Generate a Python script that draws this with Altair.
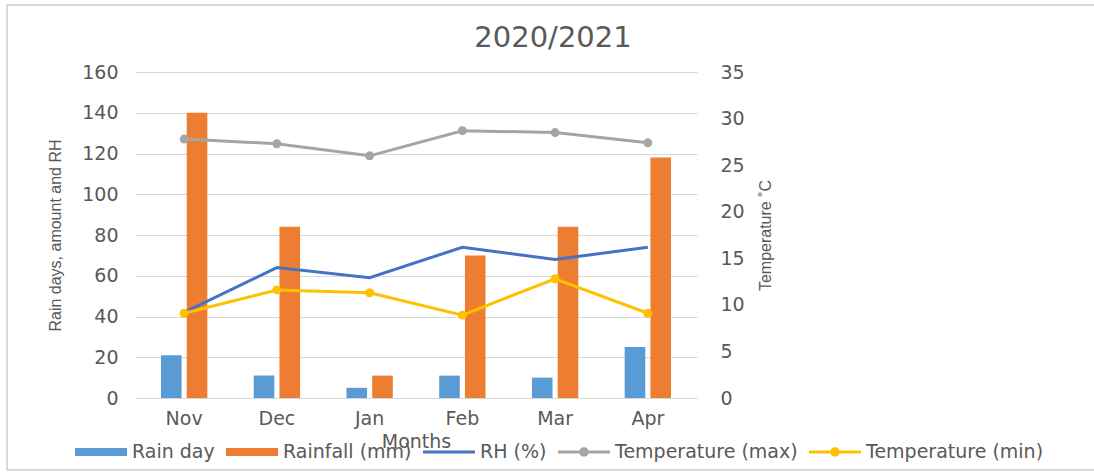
import altair as alt
import pandas as pd

# Monthly climate record, 2020/2021 season
months = ["Nov", "Dec", "Jan", "Feb", "Mar", "Apr"]
rain_days = [21, 11, 5, 11, 10, 25]
rainfall = [140, 84, 11, 70, 84, 118]
rh = [42, 64, 59, 74, 68, 74]
temp_max = [27.8, 27.3, 26.0, 28.7, 28.5, 27.4]
temp_min = [9.1, 11.6, 11.3, 8.9, 12.8, 9.1]

series_names = ["Rain day", "Rainfall (mm)", "RH (%)", "Temperature (max)", "Temperature (min)"]
series_colors = ["#5b9bd5", "#ed7d31", "#4472c4", "#a5a5a5", "#ffc000"]

rows = []
for name, vals in zip(series_names, [rain_days, rainfall, rh, temp_max, temp_min]):
    for m, v in zip(months, vals):
        rows.append({"month": m, "series": name, "value": v})
df = pd.DataFrame(rows)

TEXT = "#595959"
GRID = "#d9d9d9"
LABEL_FONT = "DejaVu Sans"
TITLE_FONT = "Liberation Sans"

# Legend keys: wide swatch for bars, stroke for RH, stroke with dot for temperatures
bar_path = "M-1,-0.15H1V0.15H-1Z"
line_path = "M-1,-0.055H1V0.055H-1Z"
marker_path = ("M-1,-0.055H-0.17V0.055H-1Z "
               "M0.17,-0.055H1V0.055H0.17Z "
               "M-0.18,0A0.18,0.18 0 1,1 0.18,0A0.18,0.18 0 1,1 -0.18,0Z")
legend_shapes = [bar_path, bar_path, line_path, marker_path, marker_path]

legend = alt.Legend(
    title=None,
    orient="none",
    legendX=-60,
    legendY=354,
    direction="horizontal",
    symbolSize=2700,
    symbolOpacity=1,
    symbolStrokeWidth=0,
    labelFont=LABEL_FONT,
    labelFontSize=19,
    labelColor=TEXT,
    labelOffset=5,
    columnPadding=11,
    labelLimit=300,
)

color_scale = alt.Scale(domain=series_names, range=series_colors)
color_enc = alt.Color("series:N", scale=color_scale, legend=legend)

x_enc = alt.X(
    "month:N",
    sort=months,
    scale=alt.Scale(paddingInner=0.5, paddingOuter=0.28),
    axis=alt.Axis(
        title="Months",
        titleFont=LABEL_FONT,
        titleFontSize=19,
        labelAngle=0,
        ticks=False,
        domain=False,
        labelPadding=11,
        titlePadding=4,
    ),
)

y_left = alt.Y(
    "value:Q",
    scale=alt.Scale(domain=[0, 160]),
    axis=alt.Axis(
        title="Rain days, amount and RH",
        values=list(range(0, 161, 20)),
        orient="left",
        grid=True,
        gridColor=GRID,
        ticks=False,
        domain=False,
        labelPadding=17,
        titlePadding=18,
    ),
)

y_right = alt.Y(
    "value:Q",
    scale=alt.Scale(domain=[0, 35]),
    axis=alt.Axis(
        title="Temperature ˚C",
        values=list(range(0, 36, 5)),
        orient="right",
        grid=False,
        ticks=False,
        domain=False,
        labelPadding=23,
        titlePadding=29,
        titleAngle=270,
    ),
)

base = alt.Chart(df)

bars = base.transform_filter(
    alt.FieldOneOfPredicate(field="series", oneOf=["Rain day", "Rainfall (mm)"])
).mark_bar().encode(
    x=x_enc,
    xOffset=alt.XOffset("series:N", sort=["Rain day", "Rainfall (mm)"],
                        scale=alt.Scale(paddingInner=0.2)),
    y=y_left,
    color=color_enc,
)

rh_line = base.transform_filter(
    alt.datum.series == "RH (%)"
).mark_line(strokeWidth=3).encode(
    x=x_enc, y=y_left, color=color_enc,
)

# Invisible layer that gives the legend its per-series key shapes
legend_layer = base.mark_point(filled=True, opacity=0).encode(
    x=x_enc,
    y=y_left,
    color=color_enc,
    shape=alt.Shape("series:N", scale=alt.Scale(domain=series_names, range=legend_shapes),
                    legend=legend),
)

# Thin outer frame around the whole chart (open on the right edge)
frame = alt.Chart(pd.DataFrame({"k": [0]})).mark_rect(
    fill=None, stroke="#d9d9d9", strokeWidth=2
).encode(
    x=alt.value(-128), x2=alt.value(1000), y=alt.value(-67), y2=alt.value(398)
)

left = alt.layer(frame, legend_layer, bars, rh_line)

temps = base.transform_filter(
    alt.FieldOneOfPredicate(field="series", oneOf=["Temperature (max)", "Temperature (min)"])
)
temp_lines = temps.mark_line(strokeWidth=3).encode(x=x_enc, y=y_right, color=color_enc)
temp_points = temps.mark_point(filled=True, size=80, opacity=1).encode(
    x=x_enc, y=y_right, color=color_enc
)
right = alt.layer(temp_lines, temp_points)

chart = alt.layer(left, right).resolve_scale(y="independent").properties(
    width=562,
    height=326,
    background="white",
    autosize=alt.AutoSizeParams(type="none"),
    padding={"left": 135, "top": 72, "right": 397, "bottom": 78},
    title=alt.TitleParams(
        "2020/2021",
        font=LABEL_FONT,
        fontSize=29,
        fontWeight="normal",
        color=TEXT,
        dx=137,
        offset=-49,
    ),
).configure_view(stroke=None).configure_axis(
    labelFont=LABEL_FONT,
    labelFontSize=19,
    labelColor=TEXT,
    titleFont=TITLE_FONT,
    titleFontSize=16,
    titleFontWeight="normal",
    titleColor=TEXT,
)

chart.save("out.html", embed_options={"renderer": "svg", "actions": False})
